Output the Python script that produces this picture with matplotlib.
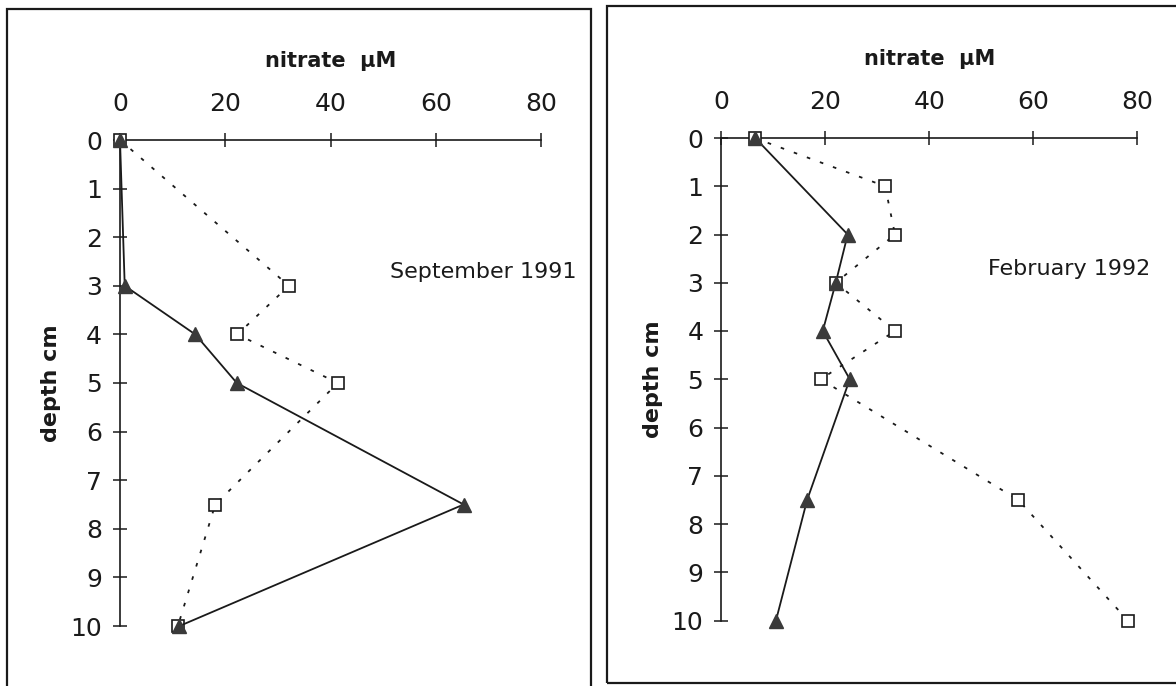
import matplotlib.pyplot as plt
from matplotlib.patches import Rectangle

plt.rcParams["font.family"] = ["DejaVu Sans"]

# depth profiles (cm) and nitrate (uM) for two sampling dates
sep_depth_tri = [0, 3, 4, 5, 7.5, 10]
sep_nitrate_tri = [0, 0.9, 14.3, 22.2, 65.3, 11.3]
sep_depth_sq = [0, 3, 4, 5, 7.5, 10]
sep_nitrate_sq = [0, 32.1, 22.3, 41.4, 18.1, 11.0]

feb_depth_tri = [0, 2, 3, 4, 5, 7.5, 10]
feb_nitrate_tri = [6.5, 24.3, 22.0, 19.5, 24.7, 16.5, 10.5]
feb_depth_sq = [0, 1, 2, 3, 4, 5, 7.5, 10]
feb_nitrate_sq = [6.4, 31.5, 33.4, 22.0, 33.4, 19.1, 57.1, 78.2]

x_ticks = [0, 20, 40, 60, 80]
y_ticks = list(range(0, 11))

W, H = 1176, 686
fig = plt.figure(figsize=(W / 100, H / 100), dpi=100)
fig.patch.set_facecolor("white")

# panel frames
for (x0, y0, x1, y1) in [(7, 9, 591, 690), (607, 6, 1180, 683)]:
    fig.patches.append(Rectangle((x0 / W, 1 - y1 / H), (x1 - x0) / W, (y1 - y0) / H,
                                 transform=fig.transFigure, fill=False,
                                 edgecolor="#1a1a1a", linewidth=1.6))


def profile(rect, d_tri, n_tri, d_sq, n_sq, title):
    ax = fig.add_axes(rect)
    ax.plot(n_sq, d_sq, color="#1a1a1a", linestyle=(0, (2, 5.7)), linewidth=1.3,
            marker="s", markersize=8.5, markerfacecolor="white",
            markeredgecolor="#1a1a1a", markeredgewidth=1.2, zorder=3,
            clip_on=False)
    ax.plot(n_tri, d_tri, color="#1a1a1a", linewidth=1.3,
            marker="^", markersize=10, markerfacecolor="#3a3a3a",
            markeredgecolor="#3a3a3a", zorder=4, clip_on=False)
    ax.set_xlim(0, 80)
    ax.set_ylim(10, 0)
    ax.set_xticks(x_ticks)
    ax.set_yticks(y_ticks)
    ax.xaxis.tick_top()
    for s in ["right", "bottom"]:
        ax.spines[s].set_visible(False)
    for s in ["left", "top"]:
        ax.spines[s].set_linewidth(1.2)
        ax.spines[s].set_color("#1a1a1a")
    ax.tick_params(axis="both", direction="inout", length=10, width=1.1,
                   labelsize=18, colors="#1a1a1a", pad=8)
    ax.tick_params(axis="x", pad=12)
    ax.text(0.5, 1.163, "nitrate  µM", transform=ax.transAxes, ha="center",
            va="center", fontsize=15, fontweight="bold", color="#1a1a1a")
    ax.text(-0.164, 0.5, "depth cm", transform=ax.transAxes, ha="center",
            va="center", rotation=90, fontsize=16, fontweight="bold",
            color="#1a1a1a")
    ax.text(51.3, 2.72, title, ha="left", va="center", fontsize=16,
            color="#1a1a1a")
    ax.patch.set_alpha(0)
    return ax


profile([120 / W, 1 - 626 / H, 421 / W, 486 / H],
        sep_depth_tri, sep_nitrate_tri, sep_depth_sq, sep_nitrate_sq,
        "September 1991")
profile([721.4 / W, 1 - 620.5 / H, 415.8 / W, 482.5 / H],
        feb_depth_tri, feb_nitrate_tri, feb_depth_sq, feb_nitrate_sq,
        "February 1992")

fig.savefig("out.png", dpi=100)
